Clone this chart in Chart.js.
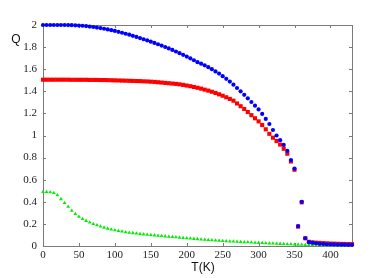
<!DOCTYPE html>
<html>
<head>
<meta charset="utf-8">
<script src="https://cdn.jsdelivr.net/npm/chart.js@4.4.0/dist/chart.umd.min.js"></script>
<style>
  html, body { margin: 0; padding: 0; background: #fff; }
  #wrap { width: 382px; height: 278px; }
</style>
</head>
<body>
<div id="wrap"><canvas id="chart" width="382" height="278"></canvas></div>
<script>
// temperature grid, K
const temps = [
  0, 5, 10, 15, 20, 25, 30, 35, 40, 45,
  50, 55, 60, 65, 70, 75, 80, 85, 90, 95,
  100, 105, 110, 115, 120, 125, 130, 135, 140, 145,
  150, 155, 160, 165, 170, 175, 180, 185, 190, 195,
  200, 205, 210, 215, 220, 225, 230, 235, 240, 245,
  250, 255, 260, 265, 270, 275, 280, 285, 290, 295,
  300, 305, 310, 315, 320, 325, 330, 335, 340, 345,
  350, 355, 360, 365, 370, 375, 380, 385, 390, 395,
  400, 405, 410, 415, 420, 425, 430
];

// blue circles
const qBlue = [
  2.0, 2.0, 2.0, 2.0, 2.0, 2.0, 2.0, 1.999, 1.998, 1.997,
  1.995, 1.993, 1.99, 1.986, 1.982, 1.977, 1.972, 1.966, 1.96, 1.953,
  1.946, 1.938, 1.93, 1.921, 1.912, 1.902, 1.892, 1.882, 1.871, 1.86,
  1.849, 1.838, 1.826, 1.814, 1.801, 1.788, 1.774, 1.76, 1.745, 1.73,
  1.714, 1.698, 1.681, 1.664, 1.65, 1.635, 1.618, 1.6, 1.58, 1.56,
  1.537, 1.513, 1.488, 1.46, 1.43, 1.4, 1.368, 1.336, 1.303, 1.27,
  1.236, 1.195, 1.15, 1.104, 1.05, 1.0, 0.958, 0.915, 0.86, 0.778,
  0.7, 0.18, 0.4, 0.07, 0.035, 0.03, 0.025, 0.02, 0.018, 0.016,
  0.015, 0.014, 0.013, 0.012, 0.012, 0.011, 0.011
];

// red squares
const qRed = [
  1.505, 1.505, 1.505, 1.505, 1.505, 1.505, 1.505, 1.505, 1.504, 1.504,
  1.504, 1.504, 1.504, 1.503, 1.503, 1.503, 1.502, 1.502, 1.501, 1.5,
  1.499, 1.498, 1.497, 1.496, 1.495, 1.494, 1.493, 1.492, 1.49, 1.489,
  1.487, 1.485, 1.482, 1.479, 1.476, 1.473, 1.47, 1.467, 1.463, 1.458,
  1.452, 1.446, 1.439, 1.432, 1.424, 1.415, 1.406, 1.396, 1.385, 1.373,
  1.36, 1.346, 1.331, 1.315, 1.29, 1.265, 1.24, 1.212, 1.184, 1.156,
  1.128, 1.095, 1.056, 1.015, 0.98, 0.95, 0.918, 0.88, 0.835, 0.765,
  0.69, 0.175, 0.395, 0.07, 0.038, 0.032, 0.03, 0.028, 0.026, 0.024,
  0.022, 0.021, 0.02, 0.019, 0.018, 0.018, 0.017
];

// green triangles
const qGreen = [
  0.49, 0.49, 0.488, 0.48, 0.46, 0.425, 0.39, 0.355, 0.32, 0.29,
  0.265, 0.245, 0.228, 0.213, 0.2, 0.188, 0.177, 0.167, 0.158, 0.15,
  0.143, 0.137, 0.131, 0.126, 0.121, 0.117, 0.113, 0.109, 0.106, 0.103,
  0.1, 0.097, 0.094, 0.091, 0.088, 0.085, 0.082, 0.079, 0.076, 0.073,
  0.07, 0.068, 0.065, 0.063, 0.06, 0.058, 0.055, 0.053, 0.05, 0.048,
  0.046, 0.044, 0.042, 0.041, 0.039, 0.037, 0.035, 0.034, 0.032, 0.03,
  0.029, 0.027, 0.026, 0.024, 0.023, 0.021, 0.02, 0.019, 0.017, 0.016,
  0.015, 0.013, 0.012, 0.01, 0.009, 0.008, 0.008, 0.008, 0.008, 0.008,
  0.008, 0.008, 0.008, 0.008, 0.008, 0.008, 0.008
];

const xTicks = [0, 50, 100, 150, 200, 250, 300, 350, 400];
const yTicks = [0, 0.2, 0.4, 0.6, 0.8, 1, 1.2, 1.4, 1.6, 1.8, 2];
const yTickLabels = ['0', '0.2', '0.4', '0.6', '0.8', '1', '1.2', '1.4', '1.6', '1.8', '2'];

function toPoints(ys) {
    return temps.map(function(t, i) { return { x: t, y: ys[i] }; });
}

const tickFont = { family: 'Liberation Serif', size: 11 };

// box with inward ticks + axis titles
const framePlugin = {
    id: 'frame',
    beforeDatasetsDraw(chart) {
        const ctx = chart.ctx;
        const a = chart.chartArea;
        const xs = chart.scales.x;
        const ys = chart.scales.y;
        ctx.save();
        ctx.strokeStyle = '#7a7a7a';
        ctx.lineWidth = 1;
        ctx.strokeRect(Math.round(a.left) + 0.5, Math.round(a.top) + 0.5,
            Math.round(a.right - a.left), Math.round(a.bottom - a.top));
        ctx.beginPath();
        xTicks.forEach(function(v) {
            const px = Math.round(xs.getPixelForValue(v)) + 0.5;
            ctx.moveTo(px, a.bottom); ctx.lineTo(px, a.bottom - 3);
            ctx.moveTo(px, a.top); ctx.lineTo(px, a.top + 3);
        });
        yTicks.forEach(function(v) {
            const py = Math.round(ys.getPixelForValue(v)) + 0.5;
            ctx.moveTo(a.left, py); ctx.lineTo(a.left + 3, py);
            ctx.moveTo(a.right, py); ctx.lineTo(a.right - 3, py);
        });
        ctx.stroke();
        ctx.restore();
    },
    afterDraw(chart) {
        const ctx = chart.ctx;
        ctx.save();
        ctx.fillStyle = '#111';
        ctx.font = '12px "Liberation Sans"';
        ctx.textAlign = 'center';
        ctx.textBaseline = 'middle';
        ctx.fillText('Q', 16, 40);
        ctx.fillText('T(K)', 203, 268);
        ctx.restore();
    }
};

new Chart(document.getElementById('chart'), {
    type: 'scatter',
    data: {
        datasets: [
            {
                label: 'blue',
                data: toPoints(qBlue),
                backgroundColor: '#0000ff',
                pointStyle: 'circle',
                pointRadius: 2.1,
                pointBorderWidth: 0,
                showLine: false,
                clip: false
            },
            {
                label: 'red',
                data: toPoints(qRed),
                backgroundColor: '#ff0000',
                pointStyle: 'rect',
                pointRadius: 2.9,
                pointBorderWidth: 0,
                showLine: false,
                clip: false
            },
            {
                label: 'green',
                data: toPoints(qGreen),
                backgroundColor: '#00ee00',
                pointStyle: 'triangle',
                pointRadius: 2.2,
                pointBorderWidth: 0,
                showLine: false,
                clip: false
            }
        ]
    },
    options: {
        responsive: false,
        animation: false,
        events: [],
        layout: { padding: { top: 25, right: 30, left: 0, bottom: 0 } },
        plugins: {
            legend: { display: false },
            tooltip: { enabled: false }
        },
        scales: {
            x: {
                type: 'linear',
                min: 0,
                max: 430,
                afterBuildTicks: function(s) { s.ticks = xTicks.map(function(v) { return { value: v }; }); },
                afterFit: function(s) { s.height = 32; },
                grid: { display: false, drawTicks: false, tickLength: 0 },
                border: { display: false },
                ticks: { font: tickFont, color: '#222', padding: 3, maxRotation: 0, autoSkip: false }
            },
            y: {
                type: 'linear',
                min: 0,
                max: 2,
                afterBuildTicks: function(s) { s.ticks = yTicks.map(function(v) { return { value: v }; }); },
                afterFit: function(s) { s.width = 43; },
                grid: { display: false, drawTicks: false, tickLength: 0 },
                border: { display: false },
                ticks: {
                    font: tickFont,
                    color: '#222',
                    padding: 6,
                    autoSkip: false,
                    callback: function(v, i) { return yTickLabels[i]; }
                }
            }
        }
    },
    plugins: [framePlugin]
});
</script>
</body>
</html>
